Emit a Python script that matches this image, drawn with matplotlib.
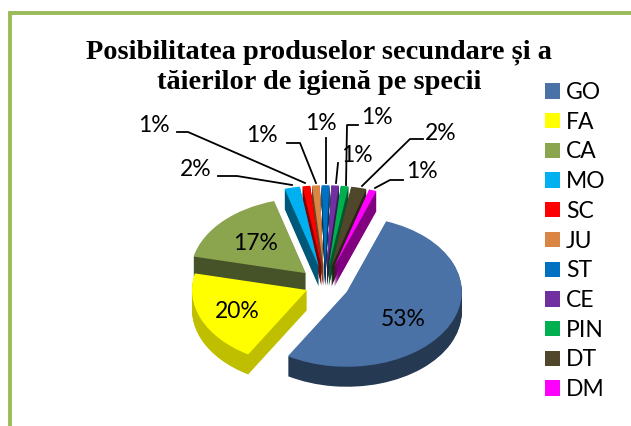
import matplotlib
matplotlib.use("Agg")
import matplotlib.pyplot as plt
import matplotlib.colors as mcolors

# =====================
# Data
# =====================
species = ["GO", "FA", "CA", "MO", "SC", "JU", "ST", "CE", "PIN", "DT", "DM"]
shares = [53, 20, 17, 2, 1, 1, 1, 1, 1, 2, 1]
title = "Posibilitatea produselor secundare și a\ntăierilor de igienă pe specii"

# =====================
# Style / layout (pixels of the 631x426 picture)
# =====================
colors = ["#4A72A6", "#FFFF00", "#8BA54F", "#00B0F0", "#FF0000", "#DA8544",
          "#0070C0", "#7030A0", "#00B050", "#4F462B", "#FF00FF"]
explode = [0.21, 0.17, 0.23, 0.25, 0.25, 0.25, 0.25, 0.25, 0.25, 0.25, 0.25]
radii = [1, 1, 1, 1.08, 1.08, 1.08, 1.08, 1.08, 1.08, 1.08, 1.08]
label_pos = [(403, 320), (237, 311), (256, 244), (196, 169), (154, 125), (262, 136),
             (321, 124), (357, 156), (377, 118), (441, 133), (422, 172)]
leaders = {
    "MO": [(218, 176), (237, 176), (292, 185)],
    "SC": [(177, 132), (188, 132), (305, 183)],
    "JU": [(287, 143), (300, 143), (316, 183)],
    "ST": [(326, 138), (326, 183)],
    "CE": [(338, 163), (336, 183)],
    "PIN": [(358, 125), (347, 125), (346, 185)],
    "DT": [(423, 139), (410, 139), (362, 186)],
    "DM": [(403, 180), (390, 180), (375, 188)],
}
W, H = 631, 426
cx, cy, rx, ry = 325, 285, 115, 75
depth_px = 20

plt.rcParams["font.family"] = ["Lato", "DejaVu Sans"]
fig = plt.figure(figsize=(W / 100, H / 100), dpi=100)

# =====================
# Pie, squashed, with walls drawn as stacked dark copies
# =====================
ax = fig.add_axes([0, 0, 1, 1])


def draw_pie(offset, cols):
    wedges, _ = ax.pie(shares, colors=cols, explode=explode, startangle=70,
                       counterclock=False, center=(0, -offset / ry),
                       wedgeprops={"linewidth": 0})
    for w, r in zip(wedges, radii):
        w.set_radius(r)
    return wedges


dark = [tuple(c * 0.5 for c in mcolors.to_rgb(col)) for col in colors]
dark[1] = (0.75, 0.75, 0.0)
for off in range(depth_px, 0, -1):
    draw_pie(off, dark)
wedges = draw_pie(0, colors)

ax.set_aspect("auto")
ax.set_xlim(-cx / rx, (W - cx) / rx)
ax.set_ylim(-(H - cy) / ry, cy / ry)

leg = ax.legend(wedges, species, loc="upper left", bbox_to_anchor=(545 / W, 1 - 82 / H),
                bbox_transform=fig.transFigure, frameon=False, fontsize=16.5,
                handlelength=0.655, handleheight=0.655, handletextpad=0.25,
                labelspacing=0.38, borderpad=0, borderaxespad=0)

# =====================
# Overlay in pixels: frame, title, labels, leader lines
# =====================
top = fig.add_axes([0, 0, 1, 1], facecolor="none")
top.set_xlim(0, W)
top.set_ylim(H, 0)
top.axis("off")

top.plot([W, 9.5, 9.5], [13, 13, H], color="#9BBB59", lw=2.8, solid_joinstyle="miter")
top.text(319, 67.5, title, ha="center", va="center", fontsize=20.4, fontweight="bold",
         family=["Liberation Serif"], linespacing=1.27)

for v, (x, y) in zip(shares, label_pos):
    top.text(x, y, f"{v}%", ha="center", va="center", fontsize=16.5, color="black")

for name, pts in leaders.items():
    top.plot([p[0] for p in pts], [p[1] for p in pts], color="black", lw=1.3)

plt.savefig("out.png", dpi=100)
